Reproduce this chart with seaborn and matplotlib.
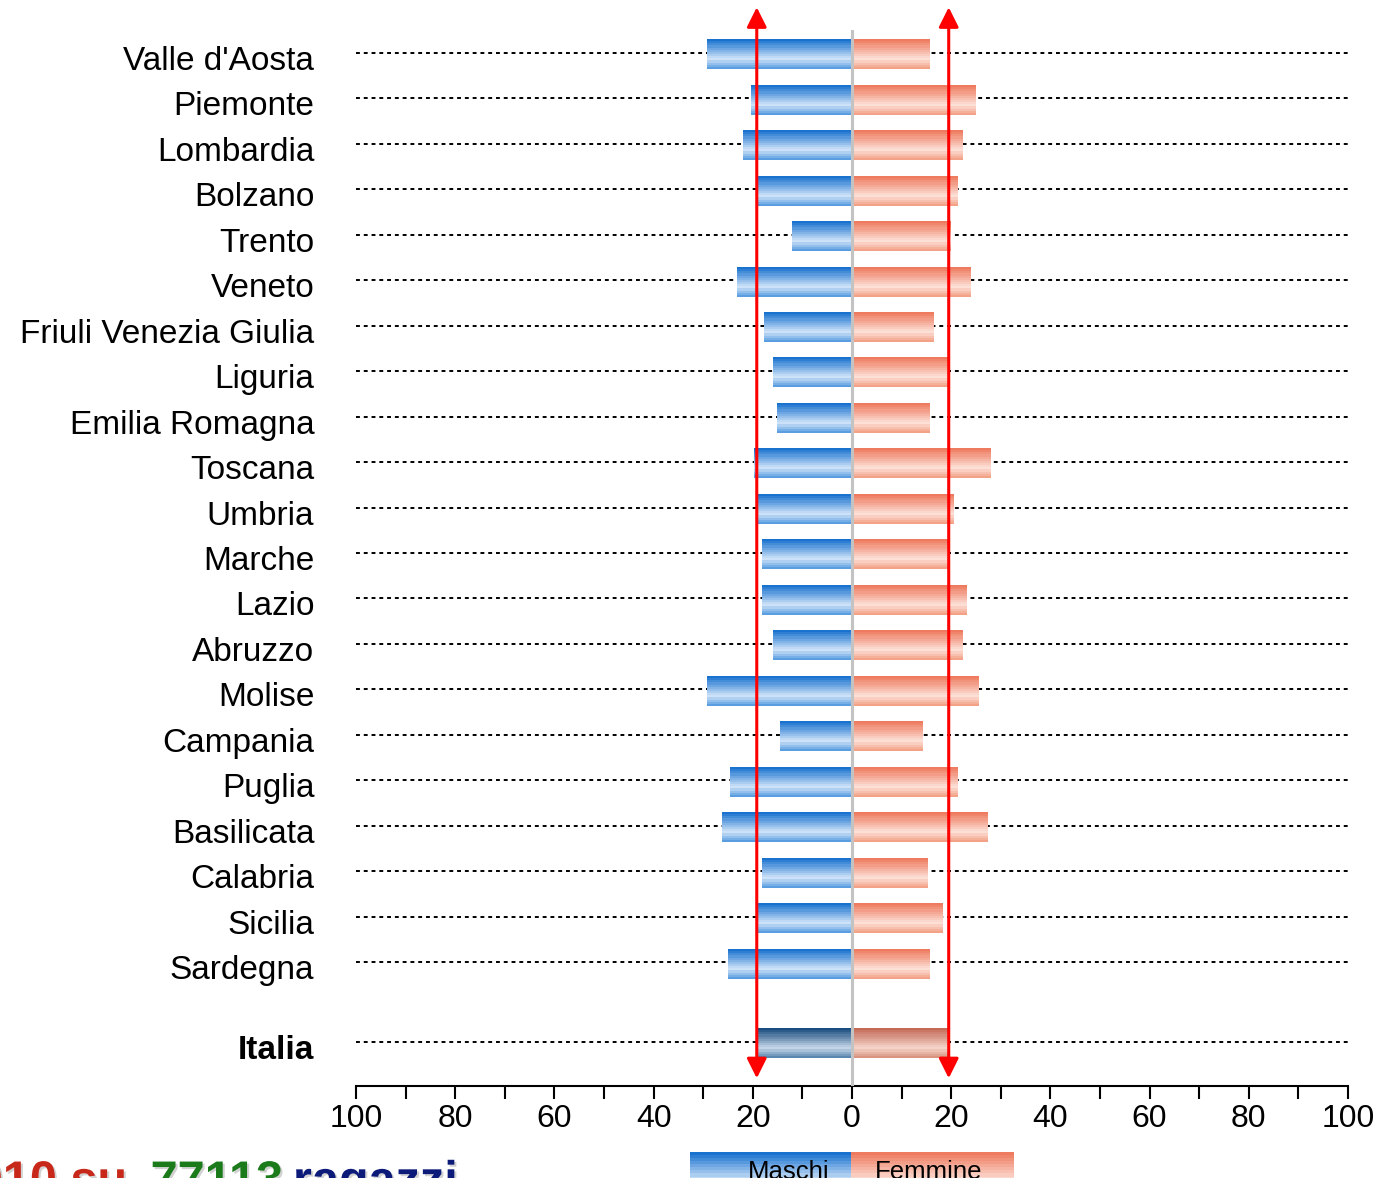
import numpy as np
import pandas as pd
import matplotlib
matplotlib.use("Agg")
import matplotlib.pyplot as plt
import matplotlib.patheffects as pe
import matplotlib.transforms as mtransforms
from matplotlib.colors import to_rgb
import seaborn as sns

# Regions (top to bottom) and the national total
regioni = ["Valle d'Aosta", "Piemonte", "Lombardia", "Bolzano", "Trento", "Veneto",
           "Friuli Venezia Giulia", "Liguria", "Emilia Romagna", "Toscana", "Umbria",
           "Marche", "Lazio", "Abruzzo", "Molise", "Campania", "Puglia", "Basilicata",
           "Calabria", "Sicilia", "Sardegna", "Italia"]
maschi = [29.3, 20.4, 22.0, 19.0, 12.1, 23.2, 17.8, 15.9, 15.1, 19.8, 19.0,
          18.2, 18.2, 15.9, 29.3, 14.5, 24.6, 26.2, 18.2, 19.0, 25.0, 19.2]
femmine = [15.7, 24.8, 22.2, 21.2, 19.9, 23.8, 16.5, 19.2, 15.7, 27.9, 20.4,
           19.5, 23.0, 22.2, 25.6, 14.3, 21.2, 27.4, 15.3, 18.2, 15.7, 19.5]
posizioni = list(range(21)) + [21.75]
tick_valori = [-100, -80, -60, -40, -20, 0, 20, 40, 60, 80, 100]
tick_etichette = ["100", "80", "60", "40", "20", "0", "20", "40", "60", "80", "100"]
tick_minori = [-90, -70, -50, -30, -10, 10, 30, 50, 70, 90]

n = len(regioni)
df = pd.DataFrame({
    "pos": posizioni * 2,
    "valore": [-v for v in maschi] + femmine,
    "sesso": ["Maschi"] * n + ["Femmine"] * n,
})

sns.set_theme(style="white")
plt.rcParams["font.family"] = ["Liberation Sans", "DejaVu Sans"]

W, H = 1393, 1178
fig = plt.figure(figsize=(W / 100, H / 100), dpi=100)
ax = fig.add_axes([356 / W, 1 - 1086 / H, 992 / W, 1056 / H])

sns.barplot(data=df, x="valore", y="pos", hue="sesso", orient="y", native_scale=True,
            dodge=False, width=0.64, errorbar=None, legend=False, ax=ax,
            palette={"Maschi": "#5a9de0", "Femmine": "#f3a187"})


def gradiente(stops, nrow=14):
    t = np.linspace(0, 1, nrow)
    pos = [s[0] for s in stops]
    cols = np.array([to_rgb(s[1]) for s in stops])
    arr = np.stack([np.interp(t, pos, cols[:, k]) for k in range(3)], axis=-1)
    return arr[:, None, :]


blu = gradiente([(0, "#1a72cf"), (0.68, "#d2e5f9"), (1, "#5a9de0")])
rosa = gradiente([(0, "#ee7b5f"), (0.68, "#fde2d9"), (1, "#f3a187")])
blu_it = gradiente([(0, "#1a4d7f"), (0.68, "#c8d8ea"), (1, "#5a86b0")])
rosa_it = gradiente([(0, "#c46a58"), (0.68, "#f6d6cc"), (1, "#d9937f")])

# Replace the flat bars with striped gradient fills
for p in list(ax.patches):
    bb = p.get_bbox()
    x0, x1 = sorted([bb.x0, bb.x1])
    y0, y1 = sorted([bb.y0, bb.y1])
    if x1 - x0 <= 0:
        continue
    yc = (y0 + y1) / 2
    italia = abs(yc - posizioni[-1]) < 0.1
    maschio = x0 < 0
    if maschio:
        img = blu_it if italia else blu
    else:
        img = rosa_it if italia else rosa
    ax.imshow(img, extent=(x0, x1, y1 + 0.04, y0 + 0.04), aspect="auto",
              interpolation="nearest", zorder=2, origin="upper")
    p.set_visible(False)

ax.axvline(0, color="#c3c3c3", lw=2.2, zorder=4)

ax.set_xlim(-100, 100)
ax.set_ylim(22.72, -0.5)

# Dotted row guides
ax.set_yticks(posizioni)
ax.set_yticklabels(regioni)
ax.set_axisbelow(True)
ax.yaxis.grid(True, color="black", linestyle=(0, (2, 2)), lw=1.4)
ax.xaxis.grid(False)
ax.get_yticklabels()[-1].set_fontweight("bold")
ax.set_xlabel("")
ax.set_ylabel("")

ax.set_xticks(tick_valori)
ax.set_xticklabels(tick_etichette)
ax.set_xticks(tick_minori, minor=True)
ax.tick_params(axis="x", which="both", bottom=True, direction="out", length=9,
               width=1.5, color="black", labelsize=23, pad=4, labelcolor="black")
ax.tick_params(axis="y", length=0, pad=30, labelsize=24, labelcolor="black")

# Region labels sit slightly below their guide line
sposta = mtransforms.ScaledTranslation(0, -5 / 100, fig.dpi_scale_trans)
for lab in ax.get_yticklabels():
    lab.set_transform(lab.get_transform() + sposta)

for s in ["left", "right", "top"]:
    ax.spines[s].set_visible(False)
ax.spines["bottom"].set_color("black")
ax.spines["bottom"].set_linewidth(1.5)

# Reference arrows at the national values
for v in (-maschi[-1], femmine[-1]):
    ax.annotate("", xy=(v, -1.0), xytext=(v, 22.55),
                arrowprops=dict(arrowstyle="<|-|>,head_length=0.6,head_width=0.3",
                                color="red", lw=2.2, shrinkA=0, shrinkB=0,
                                mutation_scale=20),
                annotation_clip=False, zorder=6)

# Legend bar at the bottom
lax = fig.add_axes([690 / W, 1 - 1195 / H, (1014 - 690) / W, 43 / H])
lax.imshow(blu, extent=(690, 851, 1195, 1152), aspect="auto", interpolation="nearest")
lax.imshow(rosa, extent=(851, 1014, 1195, 1152), aspect="auto", interpolation="nearest")
lax.set_xlim(690, 1014)
lax.set_ylim(1195, 1152)
lax.axis("off")
lax.text(789, 1179, "Maschi", ha="center", va="baseline", fontsize=18.5, color="black")
lax.text(929, 1179, "Femmine", ha="center", va="baseline", fontsize=18.5, color="black")

# Caption at the bottom left
ombra = [pe.withSimplePatchShadow(offset=(1.5, -1.5), shadow_rgbFace="gray", alpha=0.35)]
t1 = fig.text(127 / W, 1 - 1195 / H, "2010 su", ha="right", va="baseline",
              color="#c8281a", fontsize=35, fontweight="bold", path_effects=ombra)
t2 = ax.annotate("77113", xy=(1, 0), xycoords=t1, xytext=(17, 0),
                 textcoords="offset points", ha="left", va="bottom", color="#1b7b1b",
                 fontsize=35, fontweight="bold", annotation_clip=False, path_effects=ombra)
t3 = ax.annotate("ragazzi", xy=(1, 0), xycoords=t2, xytext=(7, 0),
                 textcoords="offset points", ha="left", va="bottom", color="#0c1a7a",
                 fontsize=35, fontweight="bold", annotation_clip=False, path_effects=ombra)

fig.savefig("out.png", dpi=100)
